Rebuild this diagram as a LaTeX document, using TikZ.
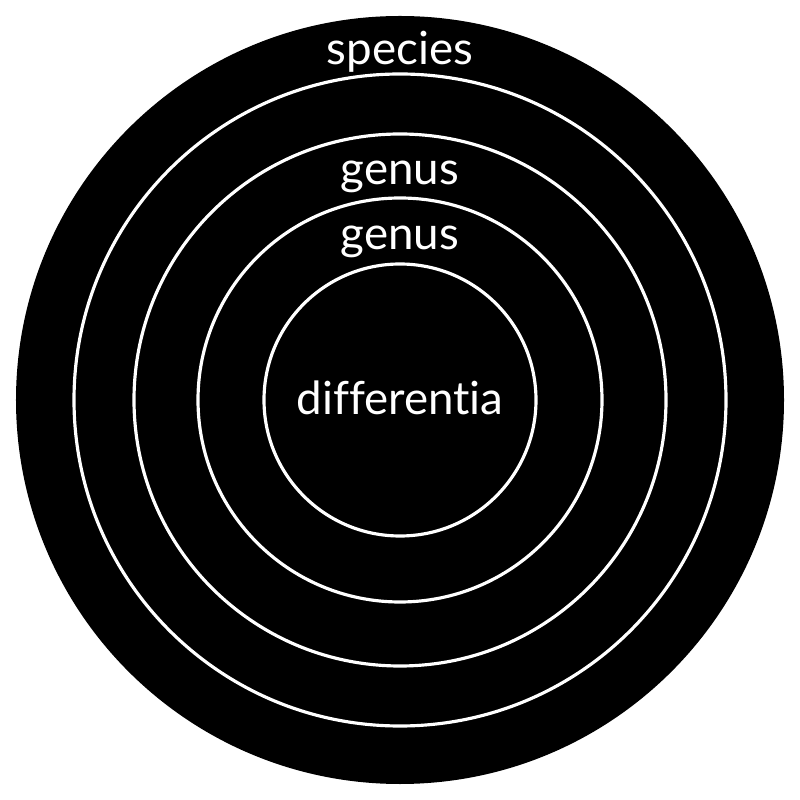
\documentclass[tikz,border=0pt]{standalone}
\usepackage{fontspec}
\setmainfont{Lato}[Ligatures=NoCommon]
\usepackage{tikz}
\usetikzlibrary{positioning}

\begin{document}
\begin{tikzpicture}[font=\fontsize{13}{15}\selectfont]
\tikzstyle{ring}=[draw=white, line width=0.9pt]
\tikzstyle{lbl}=[text=white, inner sep=0pt, anchor=base]

\useasboundingbox (-4,-4) rectangle (4,4);
\fill[black] (0,0) circle (3.84);

\draw[ring] (0,0) circle (3.26);
\draw[ring] (0,0) circle (2.66);
\draw[ring] (0,0) circle (2.02);
\draw[ring] (0,0) circle (1.36);

\node[lbl] (sp) at (0,3.35) {species};
\node[lbl] (g1) at (0,2.15) {genus};
\node[lbl] (g2) at (0,1.50) {genus};
\node[lbl] (diff) at (0,-0.15) {differentia};
\end{tikzpicture}
\end{document}
